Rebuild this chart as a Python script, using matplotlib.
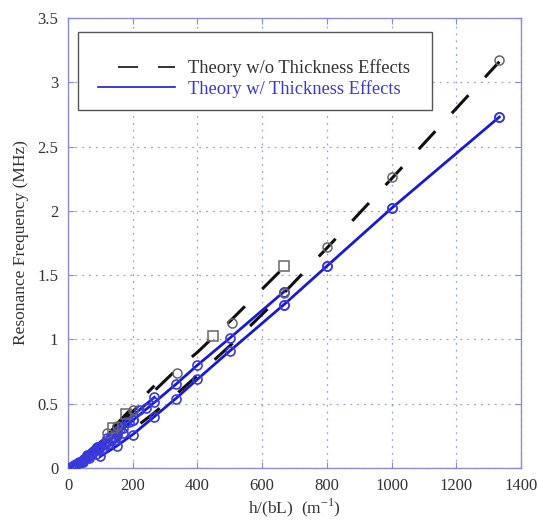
import numpy as np
import matplotlib.pyplot as plt
from matplotlib.patches import Rectangle

# family A (longest set)
xa = [100, 150, 200, 267, 333, 400, 500, 667, 800, 1000, 1333]
fa_thin = [0.13, 0.21, 0.30, 0.43, 0.57, 0.72, 0.95, 1.36, 1.71, 2.25, 3.16]
fa_thick = [0.09, 0.17, 0.26, 0.40, 0.54, 0.69, 0.91, 1.27, 1.57, 2.02, 2.73]

# family B
xb = [50, 100, 150, 200, 267, 333, 400, 500, 667]
fb_thin = [0.09, 0.20, 0.32, 0.44, 0.60, 0.76, 0.90, 1.14, 1.56]
fb_thick = [0.07, 0.16, 0.26, 0.37, 0.51, 0.65, 0.80, 1.01, 1.37]

# family C
xc = [30, 60, 90, 120, 150, 180, 220, 267]
fc_thin = [0.05, 0.12, 0.19, 0.27, 0.34, 0.42, 0.52, 0.64]
fc_thick = [0.04, 0.10, 0.16, 0.23, 0.29, 0.36, 0.45, 0.55]

# family D
xd = [20, 45, 70, 95, 120, 150, 200]
fd_thin = [0.03, 0.08, 0.14, 0.20, 0.26, 0.33, 0.45]
fd_thick = [0.02, 0.06, 0.11, 0.16, 0.21, 0.27, 0.37]

# family E
xe = [15, 40, 65, 90, 115, 140, 170]
fe_thin = [0.02, 0.07, 0.12, 0.18, 0.24, 0.30, 0.38]
fe_thick = [0.015, 0.05, 0.09, 0.14, 0.19, 0.24, 0.31]

# family F
xf = [10, 30, 50, 75, 100, 133]
ff_thin = [0.01, 0.05, 0.09, 0.14, 0.20, 0.28]
ff_thick = [0.01, 0.04, 0.07, 0.11, 0.16, 0.22]

# measured points
blk_circ_x = [1333, 1000, 800, 667, 507, 336, 200, 150, 120]
blk_circ_y = [3.17, 2.26, 1.72, 1.36, 1.13, 0.74, 0.45, 0.33, 0.27]
blk_sq_x = [667, 448, 180, 140]
blk_sq_y = [1.57, 1.03, 0.42, 0.31]

extra_blue_x = [1333, 1000, 800, 667, 667, 25, 35, 55, 80, 110, 130, 160, 190, 240,
                45, 65, 85, 105, 125, 145, 170]
extra_blue_y = [2.73, 2.02, 1.57, 1.27, 1.37, 0.03, 0.05, 0.08, 0.13, 0.19, 0.23, 0.30, 0.36, 0.47,
                0.05, 0.08, 0.11, 0.15, 0.19, 0.22, 0.27]

plt.rcParams['font.family'] = ['Liberation Serif', 'DejaVu Serif']

fig = plt.figure(figsize=(5.38, 5.23), dpi=100)
ax = fig.add_axes([0.1264, 0.1052, 0.842, 0.8604])

blue = '#1a1ad0'
families = [(xa, fa_thin, fa_thick), (xb, fb_thin, fb_thick),
            (xc, fc_thin, fc_thick), (xd, fd_thin, fd_thick),
            (xe, fe_thin, fe_thick), (xf, ff_thin, ff_thick)]
for x, f0, f1 in families:
    ax.plot(x, f0, color='#111111', lw=2.2, ls=(0, (8, 8)), zorder=3)
for x, f0, f1 in families:
    ax.plot(x, f1, color=blue, lw=2.0, zorder=3)
    ax.plot(x, f1, 'o', ms=6.5, mfc='none', mec='#3a3adc', mew=1.2, zorder=4)

ax.plot(extra_blue_x, extra_blue_y, 'o', ms=6.5, mfc='none', mec='#3a3adc', mew=1.2, zorder=4)
ax.plot(blk_circ_x, blk_circ_y, 'o', ms=6.5, mfc='none', mec='#666666', mew=1.1, zorder=4)
ax.plot(blk_sq_x, blk_sq_y, 's', ms=6.5, mfc='none', mec='#666666', mew=1.1, zorder=4)

ax.set_xlim(0, 1400)
ax.set_ylim(0, 3.5)
ax.set_xticks(np.arange(0, 1401, 200))
ax.set_yticks(np.arange(0, 3.51, 0.5))
ax.set_yticklabels(['0', '0.5', '1', '1.5', '2', '2.5', '3', '3.5'])
ax.grid(True, ls=(0, (1.5, 4)), color='#9aa0dd', lw=0.9)
for s in ax.spines.values():
    s.set_color('#8c8cd8')
    s.set_linewidth(1.0)
ax.tick_params(direction='in', length=4, color='#8c8cd8', top=True, right=True,
               labelsize=12, labelcolor='#333333', pad=7)
ax.set_xlabel('h/(bL)  (m$^{\\mathregular{-1}}$)', fontsize=12.5, color='#333333', labelpad=2)
ax.set_ylabel('Resonance Frequency (MHz)', fontsize=12.5, color='#333333', labelpad=6)

# legend box
ax.add_patch(Rectangle((0.022, 0.796), 0.781, 0.173, transform=ax.transAxes,
                       facecolor='white', edgecolor='#555555', lw=1.0, zorder=5))
h1, = ax.plot([], [], color='#111111', lw=1.2, ls=(12, (12, 12)))
h2, = ax.plot([], [], color=blue, lw=1.2)
leg = ax.legend([h1, h2], ['Theory w/o Thickness Effects', 'Theory w/ Thickness Effects'],
                loc='upper left', bbox_to_anchor=(0.066, 0.908), frameon=False,
                fontsize=13.3, handlelength=4.2, handletextpad=0.7,
                labelspacing=0.15, borderaxespad=0, borderpad=0)
leg.set_zorder(6)
leg.get_texts()[0].set_color('#333333')
leg.get_texts()[1].set_color('#3a3ad0')

fig.savefig('out.png', dpi=100)
